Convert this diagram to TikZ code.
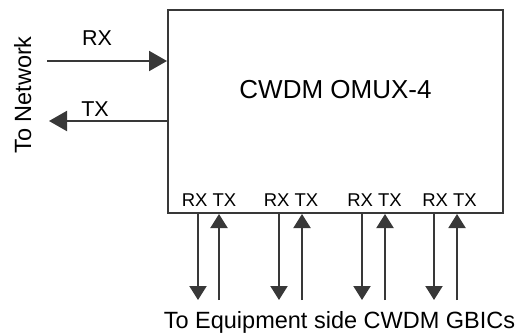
\documentclass[tikz,border=0pt]{standalone}
\usepackage{fontspec}
\setmainfont{Liberation Sans}
\usetikzlibrary{arrows.meta}
\definecolor{linegray}{gray}{0.22}
\tikzset{
  ln/.style={draw=linegray, line width=2pt},
  bigarr/.style={ln, -{Triangle[length=18pt,width=20pt]}},
  smallarr/.style={ln, -{Triangle[length=14pt,width=17pt]}},
  lbl/.style={inner sep=0pt, anchor=base},
}
\begin{document}
\begin{tikzpicture}[x=1pt,y=-1pt]
\useasboundingbox (0,0) rectangle (518,335);
% box
\node[ln, draw, minimum width=335pt, minimum height=203pt, inner sep=0pt, anchor=north west] (box) at (167,9) {};
\node[lbl, font=\fontsize{26}{30}\selectfont] (title) at (335.5,98) {CWDM OMUX-4};
% network side
\coordinate (rxin) at (47,61);
\coordinate (txout) at (49,121);
\draw[bigarr] (rxin) -- (rxin -| box.west);
\draw[bigarr] ([xshift=1.5pt]txout -| box.west) -- (txout);
\node[lbl, font=\fontsize{21.5}{26}\selectfont] (rxl) at (97,45.5) {RX};
\node[lbl, font=\fontsize{21.5}{26}\selectfont] (txl) at (95,116.5) {TX};
\node[lbl, font=\fontsize{23.5}{28}\selectfont, rotate=90] (net) at (31,95) {To Network};
% equipment side
\foreach \d/\u/\c [count=\i] in {198/219/209, 279/302/291, 362/385/374.5, 434/457/449.5}{
  \coordinate (d\i) at (\d,300);
  \coordinate (u\i) at (\u,300);
  \draw[smallarr] (d\i |- box.south) -- (d\i);
  \draw[smallarr] (u\i) -- (u\i |- box.south);
  \node[lbl, font=\fontsize{18.5}{22}\selectfont] (p\i) at (\c,206.5) {RX TX};
}
\node[lbl, font=\fontsize{23.5}{28}\selectfont] (eq) at (339.5,328) {To Equipment side CWDM GBICs};
\end{tikzpicture}
\end{document}
